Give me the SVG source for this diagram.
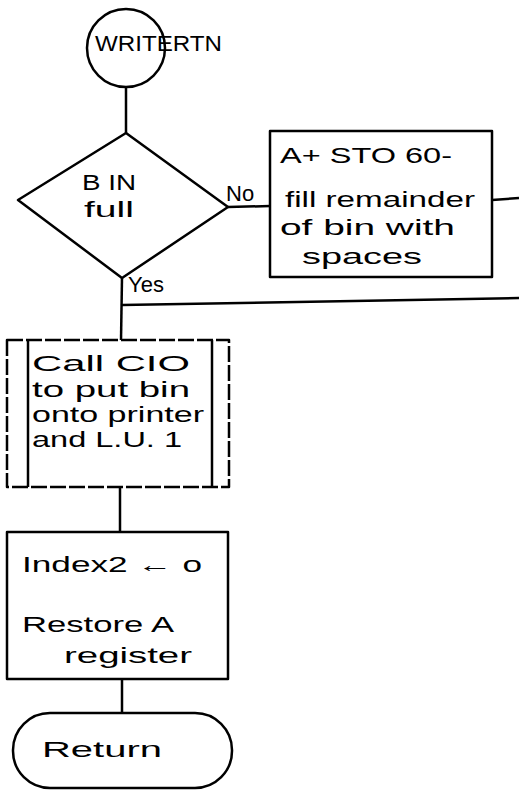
<svg xmlns="http://www.w3.org/2000/svg" width="519" height="790" viewBox="0 0 519 790">
<style>
.s{fill:none;stroke:#000;stroke-width:2.5;stroke-linejoin:round}
.c{fill:none;stroke:#000;stroke-width:2.5}
.t{font-family:"Liberation Sans",Arial,sans-serif;font-size:22px;fill:#000}
.d{stroke-dasharray:16 3}
</style>
<rect width="519" height="790" fill="#fff"/>
<g id="connectors">
<line class="c" x1="126" y1="87" x2="126" y2="133"/>
<line class="c" x1="228" y1="207" x2="270" y2="206"/>
<line class="c" x1="492" y1="200" x2="519" y2="198"/>
<line class="c" x1="122" y1="278" x2="121" y2="340"/>
<line class="c" x1="122" y1="305" x2="519" y2="298"/>
<line class="c" x1="120" y1="487" x2="120" y2="532"/>
<line class="c" x1="122" y1="679" x2="122" y2="713"/>
<text class="t" x="226" y="201" font-size="18">No</text>
<text class="t" x="128" y="292" font-size="18">Yes</text>
</g>
<g id="start">
<circle class="s" cx="126" cy="48" r="39"/>
<text class="t" x="95" y="51" font-size="17" textLength="127" lengthAdjust="spacingAndGlyphs">WRITERTN</text>
</g>
<g id="decision">
<polygon class="s" points="126,133 228,207 122,278 18,200"/>
<text class="t" x="82" y="190" font-size="25" textLength="54" lengthAdjust="spacingAndGlyphs">B IN</text>
<text class="t" x="84" y="217" font-size="25" textLength="50" lengthAdjust="spacingAndGlyphs">full</text>
</g>
<g id="fill">
<rect class="s" x="270" y="131" width="222" height="146"/>
<text class="t" x="280" y="163" textLength="172" lengthAdjust="spacingAndGlyphs">A+  STO 60-</text>
<text class="t" x="285" y="207" textLength="190" lengthAdjust="spacingAndGlyphs">fill remainder</text>
<text class="t" x="280" y="235" textLength="175" lengthAdjust="spacingAndGlyphs">of  bin with</text>
<text class="t" x="302" y="264" textLength="120" lengthAdjust="spacingAndGlyphs">spaces</text>
</g>
<g id="call">
<rect class="s d" x="7" y="340" width="222" height="147"/>
<line class="s" x1="28" y1="340" x2="28" y2="487"/>
<line class="s" x1="212" y1="340" x2="212" y2="487"/>
<text class="t" x="32" y="371" font-size="21" textLength="158" lengthAdjust="spacingAndGlyphs">Call  CIO</text>
<text class="t" x="32" y="397" font-size="19" textLength="158" lengthAdjust="spacingAndGlyphs">to  put bin</text>
<text class="t" x="32" y="422" font-size="19" textLength="172" lengthAdjust="spacingAndGlyphs">onto printer</text>
<text class="t" x="32" y="447" font-size="19" textLength="150" lengthAdjust="spacingAndGlyphs">and L.U. 1</text>
</g>
<g id="index">
<rect class="s" x="7" y="532" width="221" height="147"/>
<text class="t" x="22" y="572" textLength="180" lengthAdjust="spacingAndGlyphs">Index2 ← o</text>
<text class="t" x="22" y="632" textLength="152" lengthAdjust="spacingAndGlyphs">Restore  A</text>
<text class="t" x="64" y="663" textLength="128" lengthAdjust="spacingAndGlyphs">register</text>
</g>
<g id="return">
<rect class="s" x="13" y="713" width="219" height="75" rx="37" ry="37"/>
<text class="t" x="42" y="757" textLength="120" lengthAdjust="spacingAndGlyphs">Return</text>
</g>
</svg>
